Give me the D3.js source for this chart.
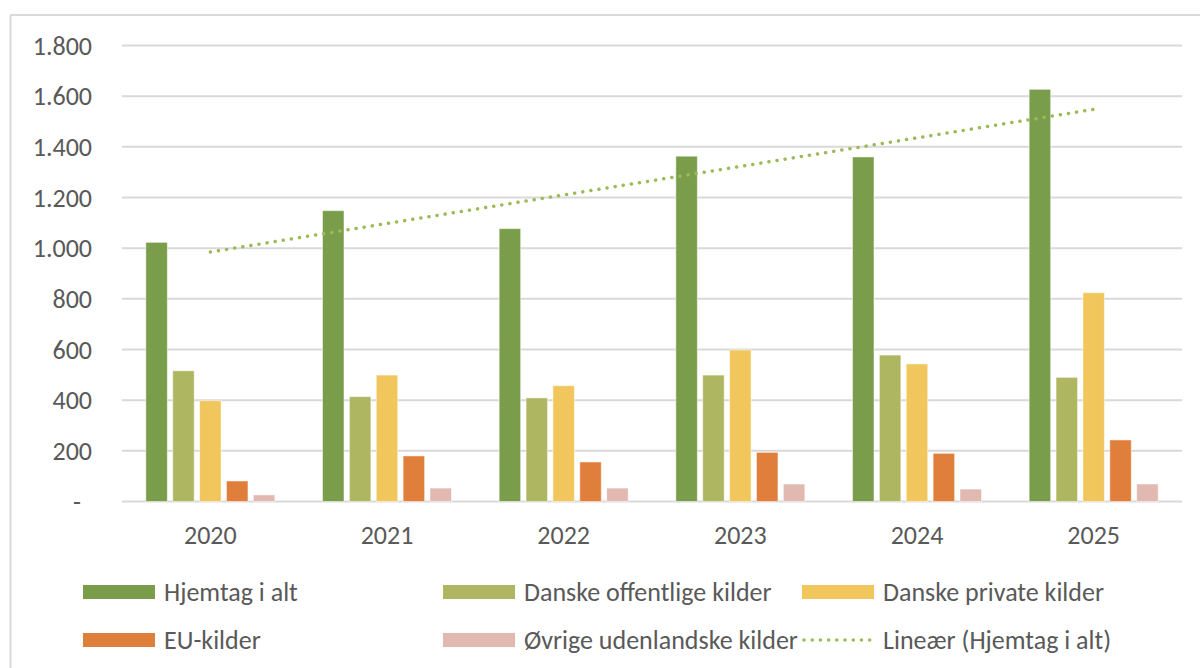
<!DOCTYPE html>
<html>
<head>
<meta charset="utf-8">
<script src="https://cdn.jsdelivr.net/npm/d3@7"></script>
<style>
  body { margin: 0; background: #fff; }
  svg text { font-family: Carlito, Calibri, "Liberation Sans", sans-serif; fill: #595959; }
</style>
</head>
<body>
<div id="chart"></div>
<script>
var years = ["2020", "2021", "2022", "2023", "2024", "2025"];
var seriesNames = ["Hjemtag i alt", "Danske offentlige kilder", "Danske private kilder", "EU-kilder", "Øvrige udenlandske kilder"];
var seriesColors = ["#799d4a", "#afb662", "#f1c65c", "#e07e3c", "#e1b9b1"];

var hjemtag = [1023, 1148, 1077, 1363, 1360, 1627];
var offentlige = [516, 414, 409, 499, 578, 490];
var private_ = [398, 499, 457, 598, 543, 824];
var euKilder = [81, 180, 156, 194, 190, 243];
var oevrige = [26, 53, 53, 69, 49, 69];
var seriesValues = [hjemtag, offentlige, private_, euKilder, oevrige];

var yTicks = [0, 200, 400, 600, 800, 1000, 1200, 1400, 1600, 1800];
var trendLabel = "Lineær (Hjemtag i alt)";

var W = 1200, H = 668;
var plot = {left: 122, right: 1182, top: 45.5, bottom: 501.5};
var fontSize = "26px";

var svg = d3.select("#chart").append("svg")
  .attr("width", W).attr("height", H);

// chart frame (top + left edges visible in the crop)
svg.append("line").attr("x1", 10).attr("x2", W).attr("y1", 15).attr("y2", 15)
  .attr("stroke", "#d9d9d9").attr("stroke-width", 2);
svg.append("line").attr("x1", 10.5).attr("x2", 10.5).attr("y1", 15).attr("y2", H)
  .attr("stroke", "#d9d9d9").attr("stroke-width", 2);

var x0 = d3.scaleBand().domain(years).range([plot.left, plot.right]).padding(0);
var half = 64.5;
var x1 = d3.scaleBand().domain(d3.range(seriesNames.length))
  .range([x0.bandwidth() / 2 - half, x0.bandwidth() / 2 + half])
  .paddingInner(0.2).paddingOuter(0);
var y = d3.scaleLinear().domain([0, 1800]).range([plot.bottom, plot.top]);

var da = d3.formatLocale({decimal: ",", thousands: ".", grouping: [3], currency: ["", " kr."]});
var fmt = da.format(",d");

// gridlines
svg.append("g").selectAll("line").data(yTicks).enter().append("line")
  .attr("x1", plot.left).attr("x2", plot.right)
  .attr("y1", function(d) { return y(d); }).attr("y2", function(d) { return y(d); })
  .attr("stroke", "#d9d9d9").attr("stroke-width", 2);

// y labels
svg.append("g").selectAll("text").data(yTicks).enter().append("text")
  .attr("x", function(d) { return d === 0 ? 81 : 92; })
  .attr("y", function(d) { return y(d); })
  .attr("dy", "0.35em")
  .attr("text-anchor", "end")
  .style("font-size", fontSize)
  .text(function(d) { return d === 0 ? "-" : fmt(d); });

// x labels
svg.append("g").selectAll("text").data(years).enter().append("text")
  .attr("x", function(d) { return x0(d) + x0.bandwidth() / 2; })
  .attr("y", 535)
  .attr("dy", "0.35em")
  .attr("text-anchor", "middle")
  .style("font-size", fontSize)
  .text(function(d) { return d; });

// bars
var groups = svg.append("g").selectAll("g").data(years).enter().append("g")
  .attr("transform", function(d) { return "translate(" + x0(d) + ",0)"; });

groups.selectAll("rect")
  .data(function(d, i) { return seriesValues.map(function(s, k) { return {k: k, v: s[i]}; }); })
  .enter().append("rect")
  .attr("x", function(d) { return x1(d.k); })
  .attr("width", x1.bandwidth())
  .attr("y", function(d) { return y(d.v); })
  .attr("height", function(d) { return y(0) - y(d.v); })
  .attr("fill", function(d) { return seriesColors[d.k]; })
  .attr("stroke", "#ffffff").attr("stroke-opacity", 0.5).attr("stroke-width", 1);

// linear trendline for Hjemtag i alt (least squares)
var xs = d3.range(1, years.length + 1);
var mx = d3.mean(xs), my = d3.mean(hjemtag);
var slope = d3.sum(xs, function(xv, i) { return (xv - mx) * (hjemtag[i] - my); }) /
            d3.sum(xs, function(xv) { return (xv - mx) * (xv - mx); });
var icpt = my - slope * mx;
var trendPts = [[years[0], icpt + slope * 1], [years[years.length - 1], icpt + slope * years.length]];

svg.append("line")
  .attr("x1", x0(trendPts[0][0]) + x0.bandwidth() / 2)
  .attr("y1", y(trendPts[0][1]))
  .attr("x2", x0(trendPts[1][0]) + x0.bandwidth() / 2)
  .attr("y2", y(trendPts[1][1]))
  .attr("stroke", "#9bbb59").attr("stroke-width", 3.5)
  .attr("stroke-linecap", "round").attr("stroke-dasharray", "0.1 8.1");

// legend
var legCols = [83, 443, 802];
var legSw = 72;
var legRows = [592, 640];
var legendItems = seriesNames.map(function(n, i) { return {name: n, color: seriesColors[i], trend: false}; });
legendItems.push({name: trendLabel, color: "#9bbb59", trend: true});

var leg = svg.append("g").selectAll("g").data(legendItems).enter().append("g")
  .attr("transform", function(d, i) {
    return "translate(" + legCols[i % 3] + "," + legRows[Math.floor(i / 3)] + ")";
  });

leg.each(function(d) {
  var g = d3.select(this);
  if (d.trend) {
    g.append("line").attr("x1", 2).attr("x2", legSw - 2).attr("y1", 0).attr("y2", 0)
      .attr("stroke", d.color).attr("stroke-width", 3.5)
      .attr("stroke-linecap", "round").attr("stroke-dasharray", "0.1 8.1");
  } else {
    g.append("rect").attr("x", 0).attr("y", -7).attr("width", legSw).attr("height", 14)
      .attr("fill", d.color);
  }
  g.append("text").attr("x", legSw + 9).attr("y", 0).attr("dy", "0.35em")
    .style("font-size", fontSize).text(d.name);
});
</script>
</body>
</html>
